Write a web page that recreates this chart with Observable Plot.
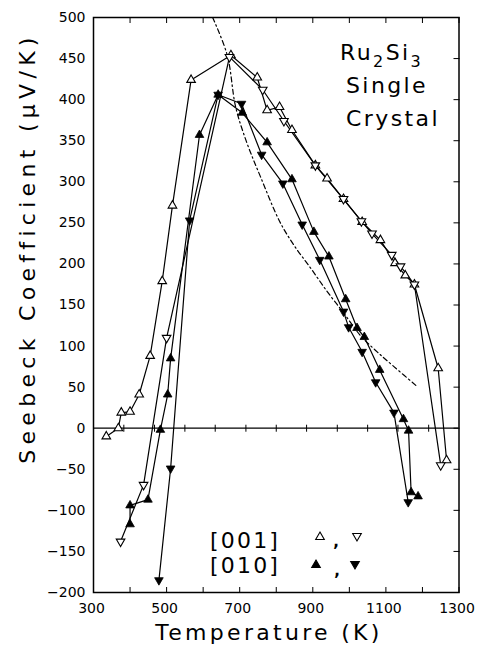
<!DOCTYPE html>
<html><head><meta charset="utf-8">
<script src="https://cdn.jsdelivr.net/npm/d3@7"></script>
<script src="https://cdn.jsdelivr.net/npm/@observablehq/plot@0.6"></script>
<style>body{margin:0;background:#fff}svg{display:block}</style>
</head><body><div id="chart"></div>
<script>
// [001] open up-triangles
const openUpT = [335,368,376,400,425,455,488,516,567,676,748,775,809,843,907,939,984,1035,1085,1125,1153,1178,1243,1266];
const openUpS = [-10,0,19,20,41,88,179,271,424,454,427,387,391,363,320,304,279,251,229,201,186,175,73,-39];
// [001] open down-triangles
const openDownT = [374,437,500,672,763,821,907,984,1033,1062,1116,1140,1178,1250];
const openDownS = [-138,-69,110,452,412,374,320,279,252,237,211,197,175,-45];
// [010] filled up-triangles
const fillUpT = [400,400,449,483,503,511,590,641,707,775,843,903,944,990,1021,1041,1083,1148,1162,1169,1188];
const fillUpS = [-117,-94,-87,-2,41,85,357,406,384,348,303,239,209,157,122,111,71,11,-3,-78,-83];
// [010] filled down-triangles
const fillDownT = [479,511,563,641,705,760,818,871,919,984,998,1035,1072,1122,1161];
const fillDownS = [-185,-49,253,406,395,333,298,248,205,142,123,93,56,19,-90];
// dash-dot curve
const curveT = [626,666,689,720,757,809,848,894,940,985,1030,1076,1122,1185];
const curveS = [500,454,391,347,306,252,223,195,166,140,113,93,75,51];

const xMinorTicks = [300,400,500,600,700,800,900,1000,1100,1200,1300];
const xTickLabels = [300,500,700,900,1100,1300];
const yTicks = [-200,-150,-100,-50,0,50,100,150,200,250,300,350,400,450,500];
const zeroLineTicks = [383,467,550,633,717,800,883,967,1050,1133,1217];

const rows = (T,S) => T.map((t,i)=>({T:t,S:S[i]}));
const openUp = rows(openUpT, openUpS);
const openDown = rows(openDownT, openDownS);
const fillUp = rows(fillUpT, fillUpS);
const fillDown = rows(fillDownT, fillDownS);
const curve = rows(curveT, curveS);
const zt = zeroLineTicks.map(t=>({T:t,S:0}));

const vbar = {draw(ctx,size){const r=Math.sqrt(size/Math.PI);ctx.moveTo(0,-r);ctx.lineTo(0,r);}};
const lw = 1.2, R = 3.2;

const chart = Plot.plot({
  width:480, height:646,
  marginLeft:93, marginRight:21.5, marginTop:17, marginBottom:54,
  x:{domain:[300,1300], label:null},
  y:{domain:[-200,500], label:null},
  style:{fontFamily:"DejaVu Sans", fontSize:"14px", color:"black", background:"white"},
  marks:[
    Plot.ruleY([0],{stroke:"black",strokeWidth:1.3}),
    Plot.dot(zt,{x:"T",y:"S",symbol:vbar,r:3.5,stroke:"black",strokeWidth:1}),
    Plot.line(curve,{x:"T",y:"S",curve:"catmull-rom",stroke:"black",strokeWidth:1.2,strokeDasharray:"5,3,1.5,3"}),
    Plot.line(openUp,{x:"T",y:"S",stroke:"black",strokeWidth:lw}),
    Plot.line(openDown,{x:"T",y:"S",stroke:"black",strokeWidth:lw}),
    Plot.line(fillUp,{x:"T",y:"S",stroke:"black",strokeWidth:lw}),
    Plot.line(fillDown,{x:"T",y:"S",stroke:"black",strokeWidth:lw}),
    Plot.dot(openUp,{x:"T",y:"S",symbol:"triangle",r:R,fill:"white",stroke:"black",strokeWidth:1.1}),
    Plot.dot(openDown,{x:"T",y:"S",symbol:"triangle",rotate:180,r:R,fill:"white",stroke:"black",strokeWidth:1.1}),
    Plot.dot(fillUp,{x:"T",y:"S",symbol:"triangle",r:R,fill:"black",stroke:"black",strokeWidth:0.8}),
    Plot.dot(fillDown,{x:"T",y:"S",symbol:"triangle",rotate:180,r:R,fill:"black",stroke:"black",strokeWidth:0.8}),
    Plot.axisX({anchor:"bottom",ticks:xMinorTicks,tickSize:-5,tickFormat:()=>"",label:null}),
    Plot.axisX({anchor:"top",ticks:xMinorTicks,tickSize:-5,tickFormat:()=>"",label:null}),
    Plot.axisX({anchor:"bottom",ticks:xTickLabels,tickSize:0,tickPadding:11,dx:-2,tickFormat:d3.format("d"),label:null,style:{letterSpacing:"1px"}}),
    Plot.axisY({anchor:"right",ticks:yTicks,tickSize:-6,tickFormat:()=>"",label:null}),
    Plot.axisY({anchor:"left",ticks:yTicks,tickSize:0,tickPadding:8,label:null,style:{letterSpacing:"1px"}}),
    Plot.frame({stroke:"black",strokeWidth:1.5})
  ]
});
document.getElementById("chart").appendChild(chart);

const svg = d3.select(chart);
const ff = "DejaVu Sans";
const txt = (x,y,size,ls,s,anchor="start") => svg.append("text").attr("x",x).attr("y",y)
  .attr("text-anchor",anchor).attr("font-family",ff).attr("font-size",size).attr("letter-spacing",ls+"px").text(s);
// axis titles
txt(269,640,22,3.3,"Temperature (K)","middle");
svg.append("text").attr("transform","translate(35,248) rotate(-90)").attr("text-anchor","middle")
  .attr("font-family",ff).attr("font-size",22).attr("letter-spacing","5.3px").text("Seebeck Coefficient (\u03BCV/K)");
// title
const t1 = svg.append("text").attr("x",340).attr("y",60).attr("text-anchor","start").attr("font-family",ff).attr("font-size",22).attr("letter-spacing","2.4px");
t1.append("tspan").text("Ru");
t1.append("tspan").attr("dy",7).attr("font-size",16).text("2");
t1.append("tspan").attr("dy",-7).text("Si");
t1.append("tspan").attr("dy",7).attr("font-size",16).text("3");
txt(346,93,22,2.4,"Single");
txt(346,126,22,2.4,"Crystal");
// legend
txt(210,548,22,2.2,"[001]");
txt(210,573,22,2.2,"[010]");
const tri = d3.symbol(d3.symbolTriangle, Math.PI*R*R)();
const leg = [[320,537,0,"white"],[357,536,180,"white"],[316,565,0,"black"],[355,564,180,"black"]];
leg.forEach(([x,y,r,f])=>svg.append("path").attr("d",tri).attr("transform",`translate(${x},${y}) rotate(${r})`)
  .attr("fill",f).attr("stroke","black").attr("stroke-width",1.1));
txt(336,547,15,0,",","middle").attr("font-weight","bold");
txt(337,576,15,0,",","middle").attr("font-weight","bold");
</script>
</body></html>
